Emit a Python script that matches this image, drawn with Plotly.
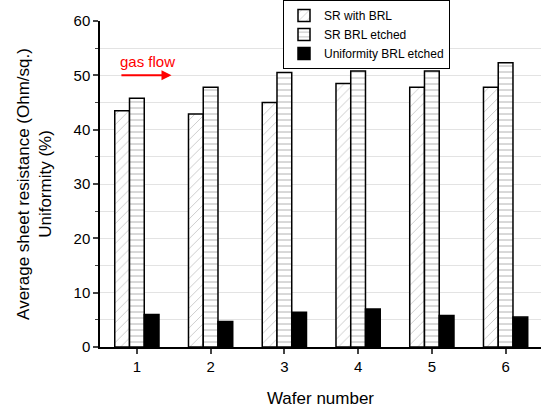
import plotly.graph_objects as go

wafers = [1, 2, 3, 4, 5, 6]
sr_with_brl = [43.5, 42.9, 45.0, 48.5, 47.8, 47.8]
sr_brl_etched = [45.8, 47.8, 50.5, 50.8, 50.8, 52.3]
uniformity_brl_etched = [6.0, 4.7, 6.4, 7.0, 5.8, 5.5]

FONT = "Liberation Sans, Arial, sans-serif"

fig = go.Figure()
fig.add_trace(go.Bar(
    x=wafers, y=sr_with_brl, name="SR with BRL",
    marker=dict(color="white", line=dict(color="black", width=1.5),
                pattern=dict(shape="/", fgcolor="#888888", bgcolor="white", size=7, solidity=0.12)),
))
fig.add_trace(go.Bar(
    x=wafers, y=sr_brl_etched, name="SR BRL etched",
    marker=dict(color="white", line=dict(color="black", width=1.5),
                pattern=dict(shape="-", fgcolor="#555555", bgcolor="white", size=6, solidity=0.15)),
))
fig.add_trace(go.Bar(
    x=wafers, y=uniformity_brl_etched, name="Uniformity BRL etched",
    marker=dict(color="black", line=dict(color="black", width=1.5)),
))

fig.add_annotation(
    x=1.47, y=50.0, xref="x", yref="y", ax=0.77, ay=50.0, axref="x", ayref="y",
    text="", showarrow=True, arrowhead=2, arrowsize=1, arrowwidth=2, arrowcolor="red",
)
fig.add_annotation(
    x=0.75, y=52.6, xref="x", yref="y", xanchor="left", yanchor="middle",
    text="gas flow", showarrow=False, font=dict(color="red", size=15, family=FONT),
)

fig.update_layout(
    width=541, height=409,
    margin=dict(l=100, r=0, t=21, b=62, autoexpand=False),
    paper_bgcolor="white", plot_bgcolor="white",
    barmode="group", bargap=0.4, bargroupgap=0,
    font=dict(family=FONT, color="black", size=14),
    showlegend=True,
    legend=dict(
        x=(283 - 100) / 441, y=1 + 21 / 326, xanchor="left", yanchor="top",
        bgcolor="white", bordercolor="black", borderwidth=1,
        font=dict(size=12, family=FONT), tracegroupgap=0, itemwidth=30,
    ),
    xaxis=dict(
        range=[0.5, 6.48], tickvals=wafers, ticktext=[str(w) for w in wafers],
        showline=True, linecolor="black", linewidth=1.5, ticks="outside",
        ticklen=5, tickwidth=1.5, showgrid=False, zeroline=False, automargin=False,
        title=dict(text="Wafer number", font=dict(size=17), standoff=18),
        tickfont=dict(size=15),
    ),
    yaxis=dict(
        range=[0, 60], tickvals=[0, 10, 20, 30, 40, 50, 60],
        showline=True, linecolor="black", linewidth=1.5, ticks="outside",
        ticklen=5, tickwidth=1.5, showgrid=True, gridcolor="#e3e3e3", gridwidth=1,
        zeroline=False, automargin=False,
        minor=dict(dtick=5, ticks="outside", ticklen=3, tickwidth=1, showgrid=True,
                   gridcolor="#e3e3e3", gridwidth=1),
        title=dict(text="Average sheet resistance (Ohm/sq.)<br>Uniformity (%)",
                   font=dict(size=17), standoff=18),
        tickfont=dict(size=15),
    ),
)

fig.write_html("out.html", config={"displayModeBar": False},
               post_script="document.body.style.margin='0';")
